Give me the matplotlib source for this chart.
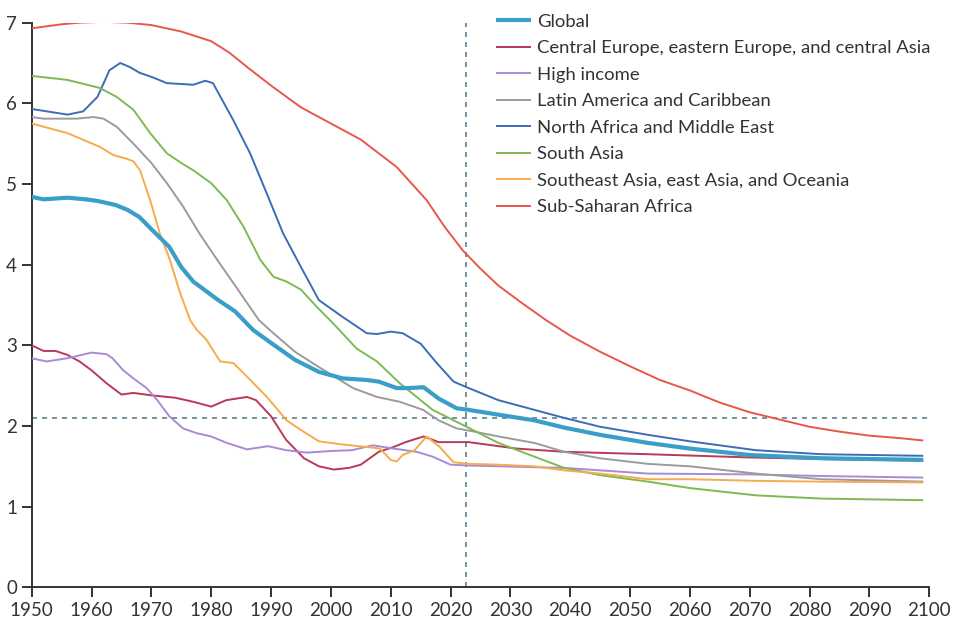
import matplotlib.pyplot as plt

# total fertility rate by super-region
global_yr = [1950, 1952, 1956, 1959, 1961, 1964, 1966, 1968, 1970, 1973, 1975, 1977, 1979, 1981, 1984, 1987,
             1990, 1994, 1998, 2002, 2006, 2008, 2011, 2013, 2015.5, 2018, 2021, 2023, 2028, 2034, 2039, 2045,
             2053, 2060, 2070, 2082, 2099]
global_val = [4.84, 4.81, 4.83, 4.81, 4.79, 4.74, 4.68, 4.59, 4.44, 4.22, 3.97, 3.79, 3.68, 3.57, 3.42, 3.19,
              3.03, 2.82, 2.67, 2.59, 2.57, 2.55, 2.47, 2.47, 2.48, 2.34, 2.22, 2.20, 2.14, 2.07, 1.98, 1.89,
              1.79, 1.72, 1.64, 1.60, 1.58]

ceeca_yr = [1950, 1952, 1954, 1956, 1958, 1960, 1962.5, 1965, 1967, 1970, 1974, 1977, 1980, 1982.5, 1986, 1987.5,
            1990, 1992.5, 1995.5, 1998, 2000.5, 2003, 2005, 2008, 2010.5, 2012.5, 2015.5, 2018, 2023, 2031,
            2039, 2053, 2070, 2082, 2099]
ceeca_val = [3.00, 2.93, 2.93, 2.88, 2.80, 2.69, 2.53, 2.39, 2.41, 2.38, 2.35, 2.30, 2.24, 2.32, 2.36, 2.32,
             2.12, 1.83, 1.60, 1.50, 1.46, 1.48, 1.52, 1.68, 1.74, 1.80, 1.87, 1.80, 1.80, 1.72,
             1.68, 1.65, 1.61, 1.59, 1.57]

high_yr = [1950, 1952.5, 1956, 1960, 1962.5, 1963.5, 1965.3, 1967, 1969.2, 1971, 1973, 1975.3, 1977.6, 1980,
           1982.6, 1986, 1989.5, 1992.5, 1996, 2000, 2003.5, 2007, 2010.5, 2014.3, 2017, 2020, 2023, 2039,
           2053, 2070, 2082, 2099]
high_val = [2.84, 2.80, 2.84, 2.91, 2.89, 2.84, 2.69, 2.59, 2.47, 2.32, 2.12, 1.97, 1.91, 1.87,
            1.79, 1.71, 1.75, 1.70, 1.67, 1.69, 1.70, 1.76, 1.72, 1.68, 1.62, 1.52, 1.51, 1.48,
            1.41, 1.40, 1.38, 1.36]

latam_yr = [1950, 1952, 1957.5, 1960.3, 1962, 1964.2, 1967, 1970, 1972.6, 1975.3, 1978, 1981, 1984, 1988,
            1990.4, 1994, 1998, 2003.7, 2007.7, 2011.5, 2015.4, 2018, 2021, 2024, 2028, 2034, 2039, 2045,
            2053, 2060, 2071, 2082, 2099]
latam_val = [5.83, 5.81, 5.81, 5.83, 5.81, 5.71, 5.50, 5.26, 5.01, 4.72, 4.39, 4.06, 3.74, 3.31,
             3.15, 2.92, 2.73, 2.47, 2.36, 2.30, 2.20, 2.07, 1.97, 1.93, 1.87, 1.79, 1.68, 1.60,
             1.53, 1.50, 1.41, 1.34, 1.31]

nafme_yr = [1950, 1956, 1958.6, 1961, 1963, 1964.8, 1966.4, 1968, 1970.3, 1972.6, 1975, 1977, 1979, 1980.3,
            1983.7, 1986.5, 1989.3, 1992, 1995, 1998, 2002, 2006, 2007.7, 2010, 2012, 2015, 2017.7, 2020.5,
            2022.7, 2028, 2034, 2039, 2045, 2053, 2060, 2071, 2082, 2099]
nafme_val = [5.93, 5.86, 5.90, 6.08, 6.41, 6.50, 6.45, 6.38, 6.32, 6.25, 6.24, 6.23, 6.28, 6.25,
             5.79, 5.38, 4.88, 4.39, 3.97, 3.56, 3.35, 3.15, 3.14, 3.17, 3.15, 3.02, 2.78, 2.55,
             2.48, 2.32, 2.20, 2.10, 1.99, 1.89, 1.81, 1.70, 1.65, 1.63]

sasia_yr = [1950, 1956, 1961.4, 1964.2, 1967, 1969.8, 1972.6, 1975, 1977, 1980, 1982.6, 1985.4, 1988.2,
            1990.4, 1992.6, 1995, 1997.6, 2000.4, 2004.3, 2007.7, 2011.5, 2017, 2021.6, 2028, 2034, 2039,
            2045, 2053, 2060, 2071, 2082, 2099]
sasia_val = [6.34, 6.29, 6.19, 6.08, 5.92, 5.63, 5.38, 5.26, 5.17, 5.01, 4.80, 4.47, 4.06,
             3.85, 3.79, 3.69, 3.48, 3.27, 2.96, 2.80, 2.53, 2.20, 2.03, 1.79, 1.62, 1.48,
             1.39, 1.31, 1.23, 1.14, 1.10, 1.08]

seao_yr = [1950, 1956, 1961.4, 1963.6, 1966, 1967, 1968.1, 1969.8, 1971.4, 1973.1, 1974.8, 1976.5, 1977.6,
           1979.2, 1981.5, 1983.7, 1986, 1989.3, 1992.6, 1995, 1998, 2002, 2006, 2008.2, 2010, 2011, 2012,
           2014, 2016, 2018.2, 2020.5, 2023, 2028, 2034, 2039, 2045, 2053, 2060, 2071, 2082, 2099]
seao_val = [5.75, 5.63, 5.46, 5.36, 5.31, 5.28, 5.17, 4.80, 4.39, 4.06, 3.65, 3.31, 3.19,
            3.07, 2.80, 2.78, 2.61, 2.36, 2.07, 1.95, 1.81, 1.77, 1.74, 1.72, 1.58, 1.56, 1.64,
            1.70, 1.87, 1.74, 1.55, 1.53, 1.52, 1.50, 1.45, 1.41, 1.34, 1.34, 1.32, 1.31, 1.30]

ssa_yr = [1950, 1955, 1958, 1962, 1966, 1970, 1975, 1980, 1983, 1986, 1990, 1995, 1999, 2005, 2011, 2016,
          2019, 2022, 2025, 2028, 2032, 2036, 2040, 2045, 2050, 2055, 2060, 2065, 2070, 2075, 2080, 2085,
          2090, 2095, 2099]
ssa_val = [6.93, 6.98, 7.00, 7.01, 7.00, 6.97, 6.89, 6.77, 6.63, 6.45, 6.22, 5.95, 5.79, 5.55, 5.21, 4.80,
           4.47, 4.18, 3.95, 3.74, 3.52, 3.31, 3.12, 2.92, 2.74, 2.57, 2.44, 2.29, 2.17, 2.08, 1.99, 1.93,
           1.88, 1.85, 1.82]

names = ['Global', 'Central Europe, eastern Europe, and central Asia', 'High income',
         'Latin America and Caribbean', 'North Africa and Middle East', 'South Asia',
         'Southeast Asia, east Asia, and Oceania', 'Sub-Saharan Africa']
colors = ['#3a9fc8', '#b8395a', '#a98bd2', '#9b9b9b', '#3c6db4', '#7dba53', '#f6ab4d', '#e8574a']

replacement_level = 2.1
forecast_start = 2022.5

plt.rcParams['font.family'] = ['Lato', 'DejaVu Sans']

fig = plt.figure(figsize=(9.6, 6.26), dpi=100)
ax = fig.add_axes([0.033, 0.0618, 0.935, 0.902])

series = [(global_yr, global_val), (ceeca_yr, ceeca_val), (high_yr, high_val), (latam_yr, latam_val),
          (nafme_yr, nafme_val), (sasia_yr, sasia_val), (seao_yr, seao_val), (ssa_yr, ssa_val)]

# dashed reference lines: replacement level and start of forecasts
ax.axhline(replacement_level, color='#5d7f8e', lw=1.2, dashes=(3, 3), zorder=1)
ax.axvline(forecast_start, color='#5d7f8e', lw=1.2, dashes=(3, 3), zorder=1)

lines = []
for i in range(len(series)):
    yr, val = series[i]
    lw = 3.0 if i == 0 else 1.4
    z = 4 if i == 0 else 3
    ln, = ax.plot(yr, val, color=colors[i], lw=lw, solid_capstyle='butt', zorder=z)
    lines.append(ln)

ax.set_xlim(1950, 2100)
ax.set_ylim(0, 7)
ax.set_xticks(range(1950, 2101, 10))
ax.set_yticks(range(0, 8))
for s in ['top', 'right']:
    ax.spines[s].set_visible(False)
for s in ['left', 'bottom']:
    ax.spines[s].set_color('#333333')
    ax.spines[s].set_linewidth(1.4)
ax.tick_params(direction='out', length=7.5, width=1.4, color='#333333', labelsize=13.5,
               labelcolor='#333333')
ax.tick_params(axis='x', pad=3)
ax.tick_params(axis='y', pad=3)

leg = fig.legend(lines, names, loc='upper left', bbox_to_anchor=(0.517, 0.978), frameon=False,
                 fontsize=13.3, handlelength=1.9, handletextpad=0.3, labelspacing=0.57,
                 borderpad=0, borderaxespad=0)
for t in leg.get_texts():
    t.set_color('#333333')

fig.savefig('out.png', dpi=100)
